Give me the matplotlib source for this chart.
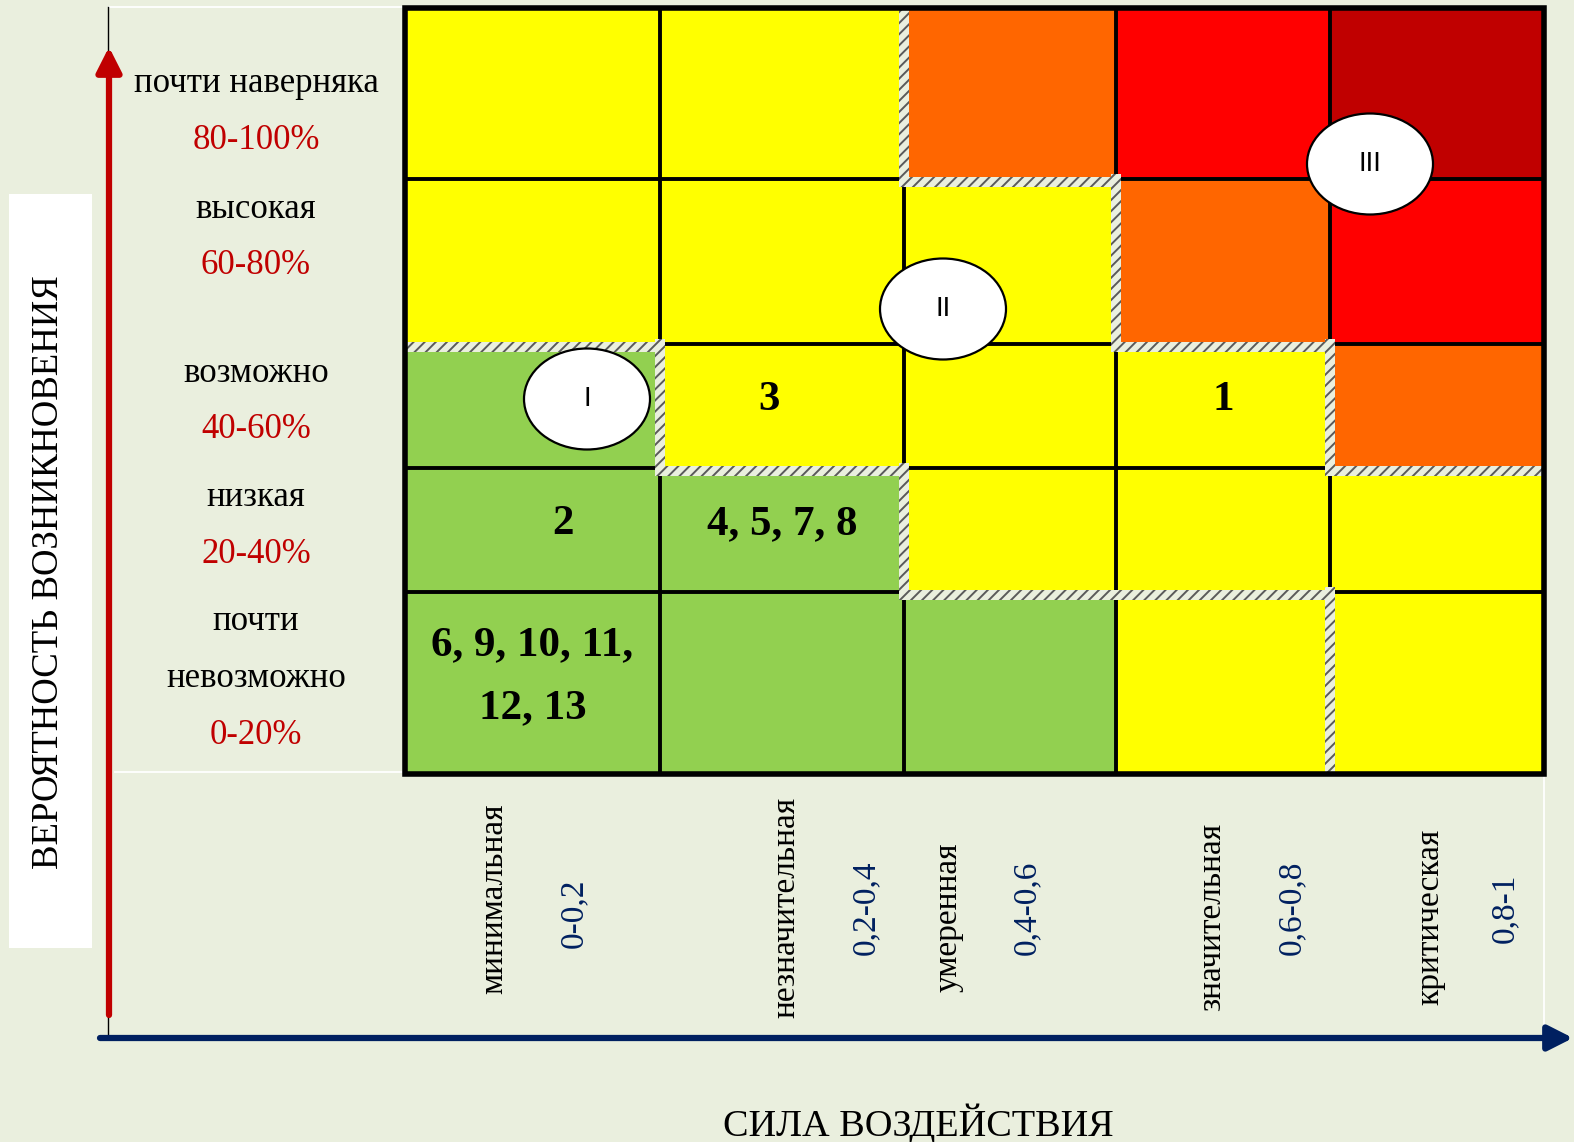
import numpy as np
import matplotlib
matplotlib.use("Agg")
import matplotlib.pyplot as plt
from matplotlib.colors import ListedColormap, BoundaryNorm
from matplotlib.patches import Rectangle, Ellipse

# ---- data ----
prob_names = ["почти наверняка", "высокая", "возможно", "низкая", "почти\nневозможно"]
prob_ranges = ["80-100%", "60-80%", "40-60%", "20-40%", "0-20%"]
impact_names = ["минимальная", "незначительная", "умеренная", "значительная", "критическая"]
impact_ranges = ["0-0,2", "0,2-0,4", "0,4-0,6", "0,6-0,8", "0,8-1"]

# colour level of each cell, rows from the top (почти наверняка) down
# 0 green, 1 yellow, 2 orange, 3 red, 4 dark red
risk_level = [
    [1, 1, 2, 3, 4],
    [1, 1, 1, 2, 3],
    [0, 1, 1, 1, 2],
    [0, 0, 1, 1, 1],
    [0, 0, 0, 1, 1],
]
# risk zone of each cell (I, II, III)
risk_zone = [
    [2, 2, 3, 3, 3],
    [2, 2, 2, 3, 3],
    [1, 2, 2, 2, 3],
    [1, 1, 2, 2, 2],
    [1, 1, 1, 1, 2],
]
zone_names = ["I", "II", "III"]
# risks put into cells: (row, col, label)
risk_cells = [
    (2, 1, "3"),
    (2, 3, "1"),
    (3, 0, "2"),
    (3, 1, "4, 5, 7, 8"),
    (4, 0, "6, 9, 10, 11,\n12, 13"),
]

# ---- layout (pixels) ----
W, H = 1574, 1142
col_edges = [405, 660, 904, 1116, 1330, 1544]
row_edges = [8, 179, 344, 468, 592, 774]
level_colors = ["#92D050", "#FFFF00", "#FF6600", "#FF0000", "#C00000"]
bg = "#EAEFDE"
serif = "Liberation Serif"

prob_label_x = 256
prob_label_y = [84, 209, 373, 498, 622]
label_step = 56.5
name_x = [494, 786, 948, 1212, 1430]
name_y = [899, 907, 917, 917, 917]
range_x = [574, 866, 1027, 1292, 1505]
range_y = [913, 908, 908, 908, 908]
cell_text_offset = {(3, 0): (30, 0), (2, 1): (-13, 0)}
zone_label_pos = [(587, 399), (943, 309), (1370, 164)]
axis_x, axis_y = 109, 1038

plt.rcParams["hatch.linewidth"] = 1.4

fig = plt.figure(figsize=(W / 100, H / 100), dpi=100)
fig.patch.set_facecolor(bg)
ax = fig.add_axes([0, 0, 1, 1])
ax.set_xlim(0, W)
ax.set_ylim(H, 0)
ax.axis("off")

# matrix cells
cmap = ListedColormap(level_colors)
norm = BoundaryNorm(np.arange(-0.5, len(level_colors)), cmap.N)
ax.pcolormesh(col_edges, row_edges, np.array(risk_level), cmap=cmap, norm=norm, zorder=1)

# inner grid
ax.vlines(col_edges[1:-1], row_edges[0], row_edges[-1], color="black", lw=2.8, zorder=2)
ax.hlines(row_edges[1:-1], col_edges[0], col_edges[-1], color="black", lw=2.8, zorder=2)

# hatched zone boundaries
z = np.array(risk_zone)
band = 10
nr, nc = z.shape
hatch_kw = dict(fc=bg, ec="#5a5a5a", hatch="///", lw=0, zorder=3)
for r in range(nr):
    for c in range(nc):
        if c + 1 < nc and z[r, c] != z[r, c + 1]:
            x = col_edges[c + 1]
            y0 = max(row_edges[r] - band / 2, row_edges[0])
            y1 = min(row_edges[r + 1] + band / 2, row_edges[-1])
            ax.add_patch(Rectangle((x - band / 2, y0), band, y1 - y0, **hatch_kw))
        if r + 1 < nr and z[r, c] != z[r + 1, c]:
            y = row_edges[r + 1] + 3
            x0 = max(col_edges[c] - band / 2, col_edges[0])
            x1 = min(col_edges[c + 1] + band / 2, col_edges[-1])
            ax.add_patch(Rectangle((x0, y - band / 2), x1 - x0, band, **hatch_kw))

# outer border
ax.add_patch(Rectangle((col_edges[0], row_edges[0]), col_edges[-1] - col_edges[0],
                       row_edges[-1] - row_edges[0], fill=False, ec="black", lw=4, zorder=4))

# risk numbers in cells
for r, c, txt in risk_cells:
    dx, dy = cell_text_offset.get((r, c), (0, 0))
    cx = (col_edges[c] + col_edges[c + 1]) / 2 + dx
    cy = (row_edges[r] + row_edges[r + 1]) / 2 + dy - 6
    ax.text(cx, cy, txt, ha="center", va="center", family=serif, fontsize=31,
            fontweight="bold", linespacing=1.85, zorder=6)

# zone ellipses
for (x, y), name in zip(zone_label_pos, zone_names):
    ax.add_patch(Ellipse((x, y), 126, 101, fc="white", ec="black", lw=1.6, zorder=5))
    ax.text(x, y, name, ha="center", va="center", family="Liberation Sans",
            fontsize=20, zorder=6)

# probability labels
for i, (name, rng) in enumerate(zip(prob_names, prob_ranges)):
    y = prob_label_y[i]
    for ln in name.split("\n"):
        ax.text(prob_label_x, y, ln, ha="center", va="center", family=serif,
                fontsize=25, color="black")
        y += label_step
    ax.text(prob_label_x, y, rng, ha="center", va="center", family=serif,
            fontsize=25, color="#C00000")

# impact labels
for i in range(len(impact_names)):
    ax.text(name_x[i], name_y[i], impact_names[i], rotation=90, ha="center",
            va="center", family=serif, fontsize=24, color="black")
    ax.text(range_x[i], range_y[i], impact_ranges[i], rotation=90, ha="center",
            va="center", family=serif, fontsize=24, color="#002060")

# frame lines
ax.plot([axis_x, col_edges[0]], [7, 7], color="white", lw=1.3, zorder=1)
ax.plot([axis_x + 6, col_edges[0]], [row_edges[-1] - 2] * 2, color="white", lw=1.3, zorder=1)
ax.plot([col_edges[-1]] * 2, [row_edges[-1] + 3, axis_y - 8], color="white", lw=1.3, zorder=1)
ax.plot([axis_x - 1, axis_x - 1], [7, axis_y], color="black", lw=1.0, zorder=1)

# axes arrows
ax.annotate("", xy=(axis_x, 47), xytext=(axis_x, 1015),
            arrowprops=dict(arrowstyle="-|>,head_length=0.75,head_width=0.38",
                            color="#C00000", lw=4.5, mutation_scale=20,
                            shrinkA=0, shrinkB=0), zorder=3)
ax.annotate("", xy=(1573, axis_y), xytext=(100, axis_y),
            arrowprops=dict(arrowstyle="-|>,head_length=0.75,head_width=0.38",
                            color="#002060", lw=4.5, mutation_scale=20,
                            shrinkA=0, shrinkB=0), zorder=3)

# axis titles
ax.add_patch(Rectangle((9, 194), 83, 754, fc="white", ec="none", zorder=1))
ax.text(49, 572, "ВЕРОЯТНОСТЬ ВОЗНИКНОВЕНИЯ", rotation=90, ha="center", va="center",
        family=serif, fontsize=26.5, zorder=2)
ax.text(918, 1136, "СИЛА ВОЗДЕЙСТВИЯ", ha="center", va="baseline", family=serif,
        fontsize=27.5)

fig.savefig("out.png", dpi=100, facecolor=bg)
